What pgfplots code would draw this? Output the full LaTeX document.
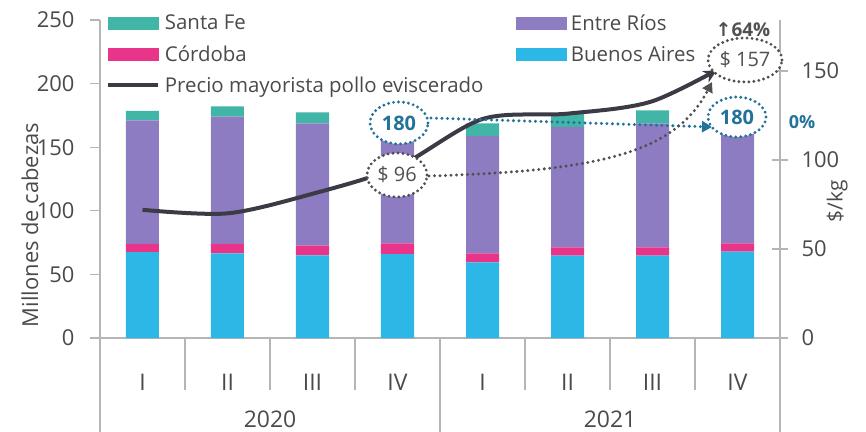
\documentclass[border=0pt]{standalone}
\usepackage{pgfplots}
\pgfplotsset{compat=1.18}
\usepackage{fontspec}
\setmainfont{Open Sans}
\newfontfamily\djv{DejaVu Sans}
\usetikzlibrary{arrows.meta}
\definecolor{sfcol}{HTML}{41B6A6}
\definecolor{corcol}{HTML}{E8358A}
\definecolor{ercol}{HTML}{8E7CC3}
\definecolor{bacol}{HTML}{2DB7E7}
\definecolor{linecol}{HTML}{3B3B45}
\definecolor{tealtxt}{HTML}{22739A}
\definecolor{dotgray}{HTML}{505050}
\definecolor{axgray}{HTML}{B5B5B5}
\definecolor{txtgray}{HTML}{4A4A4A}
\begin{document}
\begin{tikzpicture}
\begin{axis}[
  at={(0bp,0bp)}, anchor=south west,
  scale only axis, width=680bp, height=318bp,
  xmin=-0.5, xmax=7.5, ymin=0, ymax=250,
  ybar stacked, bar width=33bp,
  clip=false,
  axis x line*=bottom, axis y line*=left,
  axis line style={-, draw=axgray, line width=1.2bp},
  xtick={0,...,7}, xticklabels={I,II,III,IV,I,II,III,IV},
  x tick style={draw=none},
  ytick={0,50,...,250},
  y tick style={draw=axgray, line width=1.2bp},
  major tick length=10bp, tick align=outside,
  /pgf/number format/assume math mode=true,
  tick label style={text=txtgray},
  yticklabel style={font=\fontsize{22}{24}\selectfont, xshift=-12bp},
  xticklabel style={font=\fontsize{23}{25}\selectfont, anchor=base, yshift=-42bp},
  ylabel={Millones de cabezas},
  ylabel style={font=\fontsize{22}{24}\selectfont, text=txtgray, at={(axis description cs:-0.103,0.355)}, anchor=center},
]
\addplot+[fill=bacol, draw=none] coordinates {(0,67.6)(1,66.5)(2,65)(3,66)(4,59.5)(5,64.7)(6,64.7)(7,67.9)};
\addplot+[fill=corcol, draw=none] coordinates {(0,6.4)(1,7.5)(2,7.6)(3,8.4)(4,7.1)(5,6.6)(6,6.6)(7,6.5)};
\addplot+[fill=ercol, draw=none] coordinates {(0,97)(1,100)(2,96.2)(3,97)(4,92.4)(5,94.7)(6,97.5)(7,98)};
\addplot+[fill=sfcol, draw=none] coordinates {(0,7.5)(1,8)(2,8.6)(3,8.6)(4,9.8)(5,10.6)(6,10.2)(7,7.6)};
% separators
\draw[axgray, line width=1.2bp] (axis cs:0.5,0) -- ++(0bp,-52bp);
\draw[axgray, line width=1.2bp] (axis cs:1.5,0) -- ++(0bp,-52bp);
\draw[axgray, line width=1.2bp] (axis cs:2.5,0) -- ++(0bp,-52bp);
\draw[axgray, line width=1.2bp] (axis cs:4.5,0) -- ++(0bp,-52bp);
\draw[axgray, line width=1.2bp] (axis cs:5.5,0) -- ++(0bp,-52bp);
\draw[axgray, line width=1.2bp] (axis cs:6.5,0) -- ++(0bp,-52bp);
\draw[axgray, line width=1.2bp] (axis cs:-0.5,0) -- ++(0bp,-94bp);
\draw[axgray, line width=1.2bp] (axis cs:3.5,0) -- ++(0bp,-94bp);
\draw[axgray, line width=1.2bp] (axis cs:7.5,0) -- ++(0bp,-94bp);
\node[anchor=base, text=txtgray, font=\fontsize{23}{25}\selectfont] at (axis cs:1.5,0) [yshift=-89bp] {2020};
\node[anchor=base, text=txtgray, font=\fontsize{23}{25}\selectfont] at (axis cs:5.5,0) [yshift=-89bp] {2021};
\end{axis}
\begin{axis}[
  at={(0bp,0bp)}, anchor=south west,
  scale only axis, width=680bp, height=318bp,
  xmin=-0.5, xmax=7.5, ymin=0, ymax=178.6,
  clip=false,
  axis x line=none, axis y line*=right,
  axis line style={-, draw=axgray, line width=1.2bp},
  ytick={0,50,100,150},
  y tick style={draw=axgray, line width=1.2bp},
  major tick length=16bp, tick align=center,
  /pgf/number format/assume math mode=true,
  yticklabel style={font=\fontsize{22}{24}\selectfont, text=txtgray, xshift=10bp},
  ylabel={\$/kg},
  ylabel style={font=\fontsize{21}{23}\selectfont, text=txtgray, at={(axis description cs:1.084,0.43)}, anchor=center},
  legend columns=2,
  legend cell align=left,
  legend style={draw=none, fill=none, at={(axis description cs:0.004,1.03)}, anchor=north west,
    font=\fontsize{20.5}{22}\selectfont, text=txtgray,
    row sep=10bp,
    /tikz/every odd column/.append style={column sep=3bp},
    /tikz/every even column/.append style={column sep=30bp}},
]
\addlegendimage{legend image code/.code={\fill[sfcol] (0bp,-6bp) rectangle (50bp,6bp);}}
\addlegendimage{legend image code/.code={\fill[ercol] (0bp,-6bp) rectangle (50bp,6bp);}}
\addlegendimage{legend image code/.code={\fill[corcol] (0bp,-6bp) rectangle (50bp,6bp);}}
\addlegendimage{legend image code/.code={\fill[bacol] (0bp,-6bp) rectangle (50bp,6bp);}}
\addlegendimage{legend image code/.code={\draw[linecol, line width=4bp] (0bp,0bp) -- (50bp,0bp);}}
\addplot[smooth, linecol, line width=4bp, -{Stealth[length=13bp,width=13bp]}, shorten >=24bp, forget plot]
  coordinates {(0,72)(1,70)(2,81)(3,96)(4,123)(5,126)(6,133)(7,157)};
\legend{Santa Fe, Entre Ríos, Córdoba, Buenos Aires, Precio mayorista pollo eviscerado}
\end{axis}
% annotations
\draw[tealtxt, line width=3.3bp, dash pattern=on 0bp off 5.5bp, line cap=round, -{Triangle[length=10bp,width=11bp]}] (331bp,220bp) -- (612bp,211bp);
\draw[dotgray, line width=3.3bp, dash pattern=on 0bp off 5.5bp, line cap=round, -{Triangle[length=10bp,width=11bp]}] (329bp,162bp) .. controls (500bp,167bp) and (575bp,185bp) .. (612bp,256bp);
\filldraw[fill=white, draw=tealtxt, line width=3.2bp, dash pattern=on 0bp off 5bp, line cap=round] (299bp,215bp) ellipse [x radius=29bp, y radius=21bp];
\node[text=tealtxt, font=\fontsize{20}{22}\selectfont\bfseries] at (299bp,215bp) {180};
\filldraw[fill=white, draw=dotgray, line width=3.2bp, dash pattern=on 0bp off 5bp, line cap=round] (297bp,163bp) ellipse [x radius=30bp, y radius=22bp];
\node[text=dotgray, font=\fontsize{20}{22}\selectfont] at (297bp,163bp) {\$ 96};
\filldraw[fill=white, draw=tealtxt, line width=3.2bp, dash pattern=on 0bp off 5bp, line cap=round] (637bp,221bp) ellipse [x radius=29bp, y radius=20bp];
\node[text=tealtxt, font=\fontsize{20}{22}\selectfont\bfseries] at (637bp,221bp) {180};
\filldraw[fill=white, draw=dotgray, line width=3.2bp, dash pattern=on 0bp off 5bp, line cap=round] (645bp,278bp) ellipse [x radius=37bp, y radius=22bp];
\node[text=dotgray, font=\fontsize{20}{22}\selectfont] at (645bp,278bp) {\$ 157};
\node[text=dotgray, font=\fontsize{19}{21}\selectfont\bfseries] at (643bp,308bp) {{\djv\bfseries ↑}64\%};
\node[text=tealtxt, font=\fontsize{18}{20}\selectfont\bfseries] at (702bp,216bp) {0\%};
\pgfresetboundingbox
\path[use as bounding box] (-100bp,-94bp) rectangle (766bp,338bp);
\end{tikzpicture}
\end{document}
